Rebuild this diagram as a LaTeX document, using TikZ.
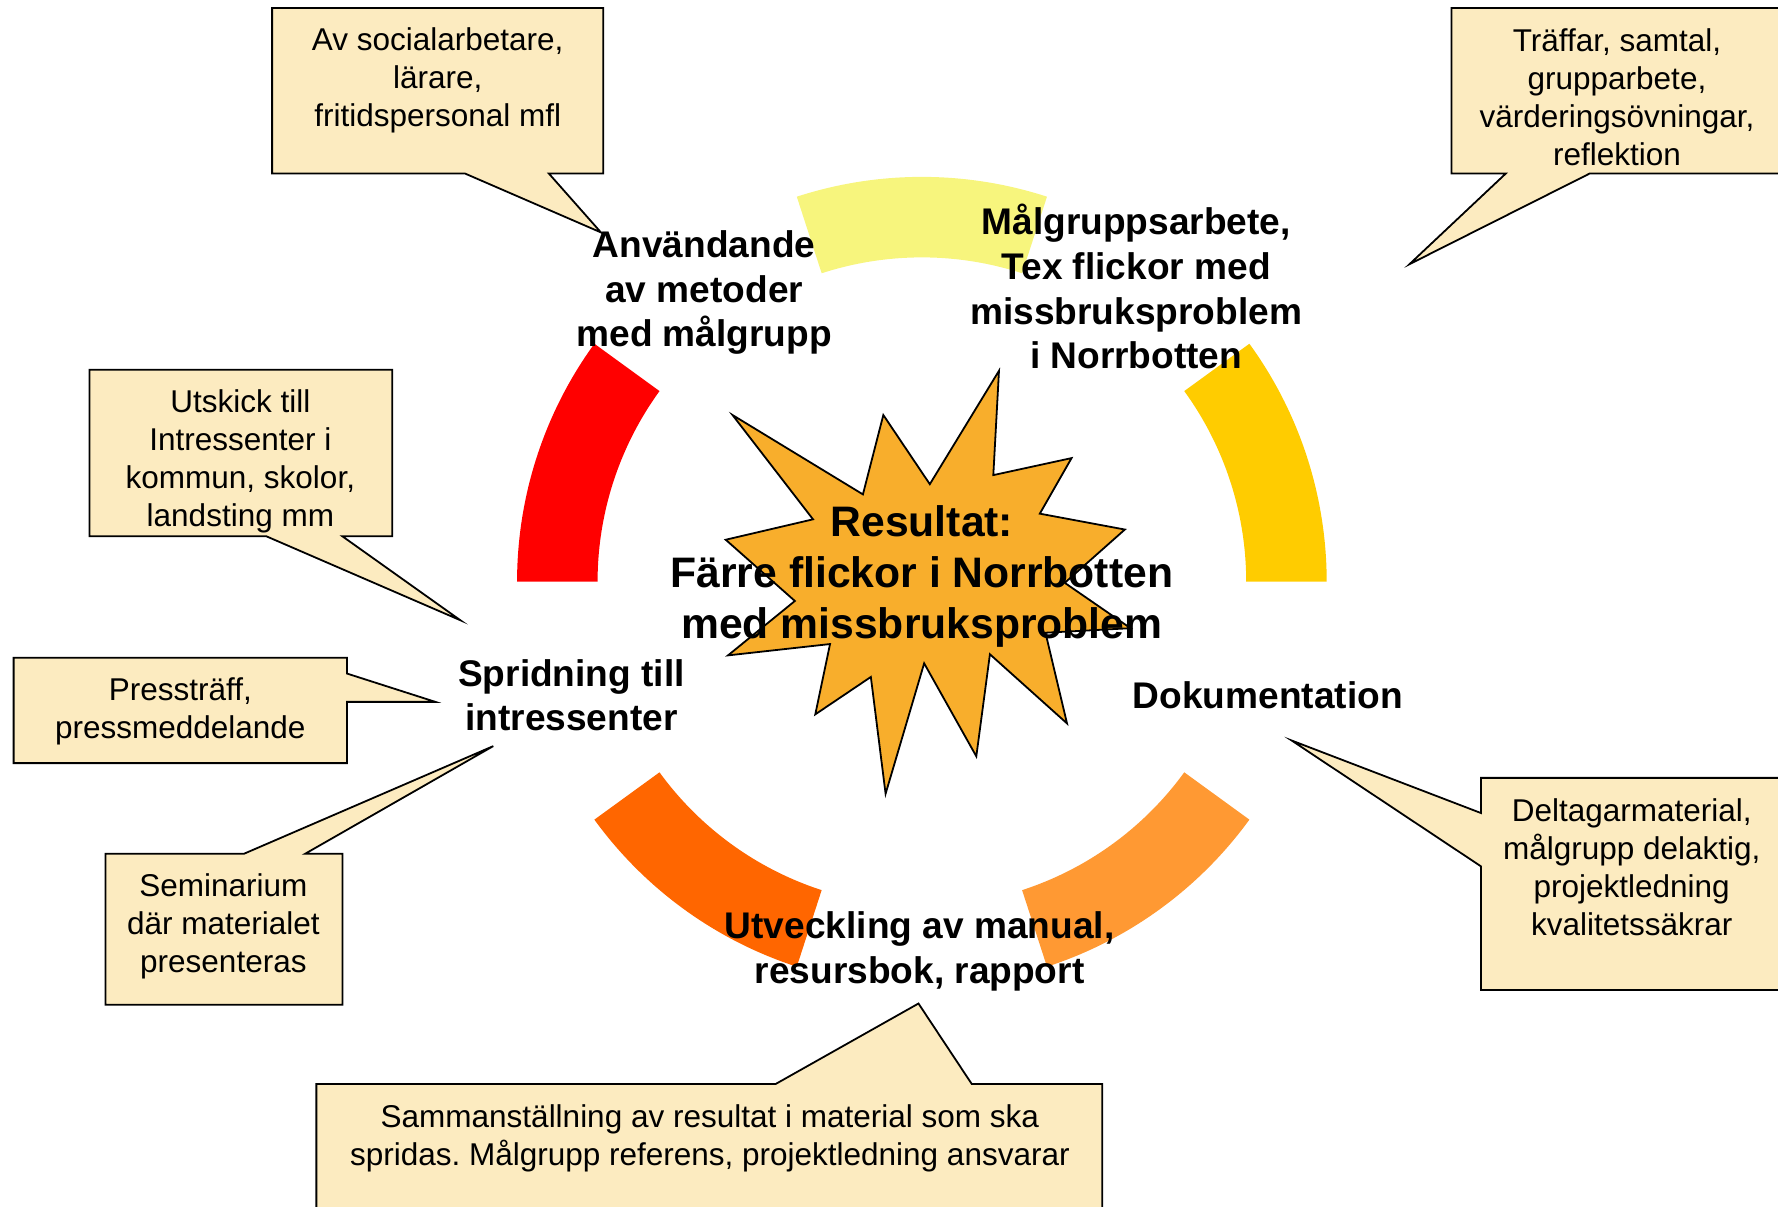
\documentclass[tikz,border=0pt]{standalone}
\usepackage{fontspec}
\setmainfont{Liberation Sans}
\frenchspacing
\definecolor{boxfill}{HTML}{FCEBC0}
\definecolor{starfill}{HTML}{F8AE2C}
\definecolor{ringyellow}{HTML}{FFCC00}
\definecolor{ringlight}{HTML}{F7F57D}
\definecolor{ringred}{HTML}{FF0000}
\definecolor{ringdark}{HTML}{FF6600}
\definecolor{ringorange}{HTML}{FF9933}
\begin{document}
\begin{tikzpicture}[x=0.01cm, y=-0.01cm,
    note/.style={align=center, inner sep=0pt, font=\fontsize{7.9}{9.5}\selectfont},
    phase/.style={align=center, inner sep=0pt, font=\fontsize{9.3}{11.2}\selectfont\bfseries},
    callout/.style={fill=boxfill, draw=black, line width=0.45pt}]
        \useasboundingbox (0,0) rectangle (1568,1064);

        % ring of phases
        \foreach \a/\col in {0/ringyellow, 72/ringlight, 144/ringred, 216/ringdark, 288/ringorange}
            \fill[\col, shift={(813,513)}] (-\a:357) arc[start angle=-\a, delta angle=-36, radius=357]
                -- (-\a-36:286) arc[start angle=-\a-36, delta angle=36, radius=286] -- cycle;

        % result star
        \filldraw[fill=starfill, line width=0.45pt] (881,327) -- (876,419) -- (945,404) -- (917,453)
            -- (992,467) -- (939,514) -- (997,554) -- (922,558) -- (941,638) -- (873,577)
            -- (861,667) -- (815,585) -- (781,700) -- (768,597) -- (719,630) -- (732,568)
            -- (642,578) -- (701,530) -- (640,476) -- (717,458) -- (646,366) -- (761,436)
            -- (779,366) -- (820,427) -- cycle;

        % callouts
        \draw[callout] (240,7) -- (532,7) -- (532,153) -- (484,153) -- (530,205) -- (410,153) -- (240,153) -- cycle;
        \draw[callout] (1280,7) -- (1580,7) -- (1580,153) -- (1402,153) -- (1243,233) -- (1328,153) -- (1280,153) -- cycle;
        \draw[callout] (79,326) -- (346,326) -- (346,473) -- (302,473) -- (406,547) -- (235,473) -- (79,473) -- cycle;
        \draw[callout] (12,580) -- (306,580) -- (306,594) -- (384,619) -- (306,619) -- (306,673) -- (12,673) -- cycle;
        \draw[callout] (93,753) -- (215,753) -- (435,658) -- (269,753) -- (302,753) -- (302,886) -- (93,886) -- cycle;
        \draw[callout] (1306,686) -- (1580,686) -- (1580,873) -- (1306,873) -- (1306,764) -- (1139,653) -- (1306,717) -- cycle;
        \draw[callout] (279,956) -- (684,956) -- (810,885) -- (857,956) -- (972,956) -- (972,1080) -- (279,1080) -- cycle;

        \node[note] (socialnote) at (386,71) {Av socialarbetare,\\lärare,\\fritidspersonal mfl};
        \node[note] (traffnote) at (1426,86) {Träffar, samtal,\\grupparbete,\\värderingsövningar,\\reflektion};
        \node[note] (utskicknote) at (212,407) {Utskick till\\Intressenter i\\kommun, skolor,\\landsting mm};
        \node[note] (pressnote) at (159,627) {Pressträff,\\pressmeddelande};
        \node[note] (seminote) at (197,817) {Seminarium\\där materialet\\presenteras};
        \node[note] (deltagnote) at (1439,765) {Deltagarmaterial,\\målgrupp delaktig,\\projektledning\\kvalitetssäkrar};
        \node[note] (sammannote) at (626,1004) {Sammanställning av resultat i material som ska\\spridas. Målgrupp referens, projektledning ansvarar};

        % phases
        \node[phase] (anvand) at (621,258) {Användande\\av metoder\\med målgrupp};
        \node[phase] (malgrupp) at (1002,253) {Målgruppsarbete,\\Tex flickor med\\missbruksproblem\\i Norrbotten};
        \node[phase] (spridning) at (504,613) {Spridning till\\intressenter};
        \node[phase] (dokument) at (1118,613) {Dokumentation};
        \node[phase] (utveckling) at (811,839) {Utveckling av manual,\\resursbok, rapport};
        \node[phase, font=\fontsize{10.7}{12.8}\selectfont\bfseries] (resultat) at (813,508)
            {Resultat:\\Färre flickor i Norrbotten\\med missbruksproblem};
    \end{tikzpicture}
\end{document}
